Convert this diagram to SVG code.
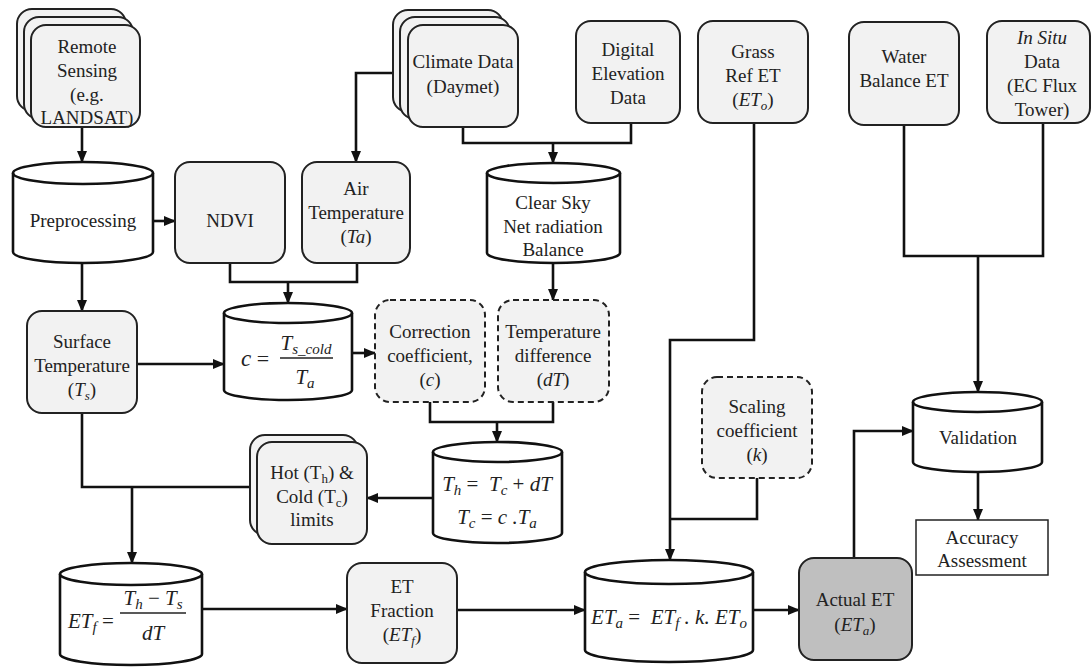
<svg xmlns="http://www.w3.org/2000/svg" width="1091" height="667" viewBox="0 0 1091 667" font-family="Liberation Serif, DejaVu Serif, serif">
<style>
.box{fill:#f2f2f2;stroke:#222;stroke-width:2}
.dash{fill:#f2f2f2;stroke:#222;stroke-width:2;stroke-dasharray:6,4}
.cyl{fill:#fff;stroke:#111;stroke-width:2.6}
.cyltop{fill:none;stroke:#111;stroke-width:2.6}
.con{fill:none;stroke:#111;stroke-width:2.6}
.arr{fill:none;stroke:#111;stroke-width:2.6;marker-end:url(#ah)}
text{font-family:'Liberation Serif','DejaVu Serif',serif;font-size:19px;fill:#222;text-anchor:middle}
.m{font-style:italic;font-size:21px}
.sub{font-size:13px}
.msub{font-size:15px}
</style>
<defs>
<marker id="ah" markerUnits="userSpaceOnUse" markerWidth="12" markerHeight="12" viewBox="0 0 12 12" refX="11" refY="6" orient="auto">
<path d="M0,1 L12,6 L0,11 Z" fill="#111"/>
</marker>
</defs>

<g id="connectors">
<path class="arr" d="M82,127 V162"/>
<path class="arr" d="M153,221 H175"/>
<path class="arr" d="M393,73 H356 V162"/>
<path class="con" d="M463,127 V143 H631 V123"/>
<path class="arr" d="M553,143 V163"/>
<path class="arr" d="M82,263 V311"/>
<path class="con" d="M230,263 V282 H357 V263"/>
<path class="arr" d="M288,282 V303"/>
<path class="arr" d="M553,263 V300"/>
<path class="arr" d="M137,364 H224"/>
<path class="arr" d="M352,353 H375"/>
<path class="con" d="M430,402 V422 H553 V402"/>
<path class="arr" d="M497,422 V442"/>
<path class="arr" d="M433,498 H367"/>
<path class="con" d="M82,413 V487 H250"/>
<path class="arr" d="M132,487 V563"/>
<path class="arr" d="M202,609 H347"/>
<path class="arr" d="M457,610 H585"/>
<path class="arr" d="M754,123 V340 H670 V560"/>
<path class="con" d="M757,478 V519 H670"/>
<path class="arr" d="M753,610 H799"/>
<path class="arr" d="M854,558 V431 H913"/>
<path class="con" d="M904,125 V256 H1043 V123"/>
<path class="arr" d="M978,256 V392"/>
<path class="arr" d="M978,472 V520"/>
</g>

<g id="remote-sensing">
<rect class="box" x="17" y="9" width="109" height="102" rx="15"/>
<rect class="box" x="24" y="17" width="109" height="102" rx="15"/>
<rect class="box" x="31" y="25" width="109" height="102" rx="15"/>
<text x="87" y="53">Remote</text>
<text x="87" y="77">Sensing</text>
<text x="87" y="101">(e.g.</text>
<text x="87" y="124">LANDSAT)</text>
</g>

<g id="preprocessing">
<path class="cyl" d="M13,173 A70,11 0 0 1 153,173 V252 A70,11 0 0 1 13,252 Z"/>
<path class="cyltop" d="M13,173 A70,11 0 0 0 153,173"/>
<text x="83" y="227">Preprocessing</text>
</g>

<g id="ndvi">
<rect class="box" x="175" y="162" width="110" height="101" rx="15"/>
<text x="230" y="227">NDVI</text>
</g>

<g id="air-temperature">
<rect class="box" x="302" y="162" width="108" height="101" rx="15"/>
<text x="356" y="195">Air</text>
<text x="356" y="219">Temperature</text>
<text x="356" y="243">(<tspan font-style="italic">Ta</tspan>)</text>
</g>

<g id="climate-data">
<rect class="box" x="393" y="10" width="110" height="102" rx="15"/>
<rect class="box" x="400" y="17" width="110" height="102" rx="15"/>
<rect class="box" x="408" y="25" width="110" height="102" rx="15"/>
<text x="463" y="68">Climate Data</text>
<text x="463" y="93">(Daymet)</text>
</g>

<g id="dem">
<rect class="box" x="576" y="21" width="104" height="102" rx="15"/>
<text x="628" y="56">Digital</text>
<text x="628" y="80">Elevation</text>
<text x="628" y="104">Data</text>
</g>

<g id="clear-sky">
<path class="cyl" d="M487,173 A66.5,10 0 0 1 620,173 V253 A66.5,10 0 0 1 487,253 Z"/>
<path class="cyltop" d="M487,173 A66.5,10 0 0 0 620,173"/>
<text x="553" y="209">Clear Sky</text>
<text x="553" y="233">Net radiation</text>
<text x="553" y="256">Balance</text>
</g>

<g id="grass-ref-et">
<rect class="box" x="698" y="21" width="110" height="102" rx="15"/>
<text x="753" y="58">Grass</text>
<text x="753" y="82">Ref ET</text>
<text x="753" y="106">(<tspan font-style="italic">ET<tspan class="sub" dy="4">o</tspan></tspan><tspan dy="-4">)</tspan></text>
</g>

<g id="water-balance">
<rect class="box" x="849" y="22" width="110" height="103" rx="15"/>
<text x="904" y="63">Water</text>
<text x="904" y="87">Balance ET</text>
</g>

<g id="in-situ">
<rect class="box" x="987" y="21" width="103" height="102" rx="15"/>
<text x="1042" y="44" font-style="italic">In Situ</text>
<text x="1042" y="68">Data</text>
<text x="1042" y="92">(EC Flux</text>
<text x="1042" y="116">Tower)</text>
</g>

<g id="surface-temperature">
<rect class="box" x="27" y="311" width="110" height="102" rx="15"/>
<text x="82" y="348">Surface</text>
<text x="82" y="372">Temperature</text>
<text x="82" y="396">(<tspan font-style="italic">T<tspan class="sub" dy="4">s</tspan></tspan><tspan dy="-4">)</tspan></text>
</g>

<g id="c-formula">
<path class="cyl" d="M224,313 A64,10 0 0 1 352,313 V390 A64,10 0 0 1 224,390 Z"/>
<path class="cyltop" d="M224,313 A64,10 0 0 0 352,313"/>
<text x="246" y="366" class="m" style="font-size:23px">c</text>
<text x="263" y="366" style="font-size:22px">=</text>
<text x="306" y="350" class="m">T<tspan class="msub" dy="4">s_cold</tspan></text>
<line x1="280" y1="358" x2="333" y2="358" stroke="#222" stroke-width="1.5"/>
<text x="305" y="384" class="m">T<tspan class="msub" dy="4">a</tspan></text>
</g>

<g id="correction-coefficient">
<rect class="dash" x="375" y="300" width="110" height="102" rx="15"/>
<text x="430" y="338">Correction</text>
<text x="430" y="362">coefficient,</text>
<text x="430" y="386">(<tspan font-style="italic">c</tspan>)</text>
</g>

<g id="temperature-difference">
<rect class="dash" x="498" y="300" width="111" height="102" rx="15"/>
<text x="553" y="338">Temperature</text>
<text x="553" y="362">difference</text>
<text x="553" y="386">(<tspan font-style="italic">dT</tspan>)</text>
</g>

<g id="hot-cold-limits">
<rect class="box" x="250" y="435" width="108" height="100" rx="15"/>
<rect class="box" x="257" y="442" width="110" height="102" rx="15"/>
<text x="312" y="479">Hot (T<tspan class="sub" dy="4">h</tspan><tspan dy="-4">) &amp;</tspan></text>
<text x="312" y="503">Cold (T<tspan class="sub" dy="4">c</tspan><tspan dy="-4">)</tspan></text>
<text x="312" y="526">limits</text>
</g>

<g id="th-formula">
<path class="cyl" d="M433,452 A64.5,10 0 0 1 562,452 V533 A64.5,10 0 0 1 433,533 Z"/>
<path class="cyltop" d="M433,452 A64.5,10 0 0 0 562,452"/>
<text x="497" y="491" class="m">T<tspan class="msub" dy="4">h</tspan><tspan dy="-4" font-style="normal">&#160;=&#160;&#160;</tspan>T<tspan class="msub" dy="4">c</tspan><tspan dy="-4" font-style="normal">&#160;+&#160;</tspan>dT</text>
<text x="497" y="524" class="m">T<tspan class="msub" dy="4">c</tspan><tspan dy="-4" font-style="normal">&#160;=&#160;</tspan>c&#160;.T<tspan class="msub" dy="4">a</tspan></text>
</g>

<g id="scaling-coefficient">
<rect class="dash" x="702" y="377" width="110" height="101" rx="15"/>
<text x="757" y="413">Scaling</text>
<text x="757" y="437">coefficient</text>
<text x="757" y="461">(<tspan font-style="italic">k</tspan>)</text>
</g>

<g id="validation">
<path class="cyl" d="M913,402 A64.5,10 0 0 1 1042,402 V462 A64.5,10 0 0 1 913,462 Z"/>
<path class="cyltop" d="M913,402 A64.5,10 0 0 0 1042,402"/>
<text x="978" y="444">Validation</text>
</g>

<g id="accuracy-assessment">
<rect x="916" y="520" width="132" height="55" fill="#fff" stroke="#222" stroke-width="1.5"/>
<text x="982" y="544">Accuracy</text>
<text x="982" y="567">Assessment</text>
</g>

<g id="etf-formula">
<path class="cyl" d="M60,574 A71,11 0 0 1 202,574 V654 A71,11 0 0 1 60,654 Z"/>
<path class="cyltop" d="M60,574 A71,11 0 0 0 202,574"/>
<text x="68" y="628" class="m" style="text-anchor:start">ET<tspan class="msub" dy="4">f</tspan><tspan dy="-4" font-style="normal">&#160;=</tspan></text>
<text x="153" y="605" class="m">T<tspan class="msub" dy="4">h</tspan><tspan dy="-4" font-style="normal">&#160;−&#160;</tspan>T<tspan class="msub" dy="4">s</tspan></text>
<line x1="120" y1="613" x2="186" y2="613" stroke="#222" stroke-width="1.5"/>
<text x="153" y="640" class="m">dT</text>
</g>

<g id="et-fraction">
<rect class="box" x="347" y="563" width="110" height="100" rx="15"/>
<text x="402" y="593">ET</text>
<text x="402" y="617">Fraction</text>
<text x="402" y="641">(<tspan font-style="italic">ET<tspan class="sub" dy="4">f</tspan></tspan><tspan dy="-4">)</tspan></text>
</g>

<g id="eta-formula">
<path class="cyl" d="M585,572 A84,12 0 0 1 753,572 V650 A84,12 0 0 1 585,650 Z"/>
<path class="cyltop" d="M585,572 A84,12 0 0 0 753,572"/>
<text x="669" y="624" class="m">ET<tspan class="msub" dy="4">a</tspan><tspan dy="-4" font-style="normal">&#160;=&#160;&#160;</tspan>ET<tspan class="msub" dy="4">f</tspan><tspan dy="-4">&#160;.&#160;k.&#160;ET</tspan><tspan class="msub" dy="4">o</tspan></text>
</g>

<g id="actual-et">
<rect x="799" y="558" width="113" height="102" rx="15" fill="#bfbfbf" stroke="#222" stroke-width="2"/>
<text x="855" y="606">Actual ET</text>
<text x="855" y="631">(<tspan font-style="italic">ET<tspan class="sub" dy="4">a</tspan></tspan><tspan dy="-4">)</tspan></text>
</g>
</svg>
